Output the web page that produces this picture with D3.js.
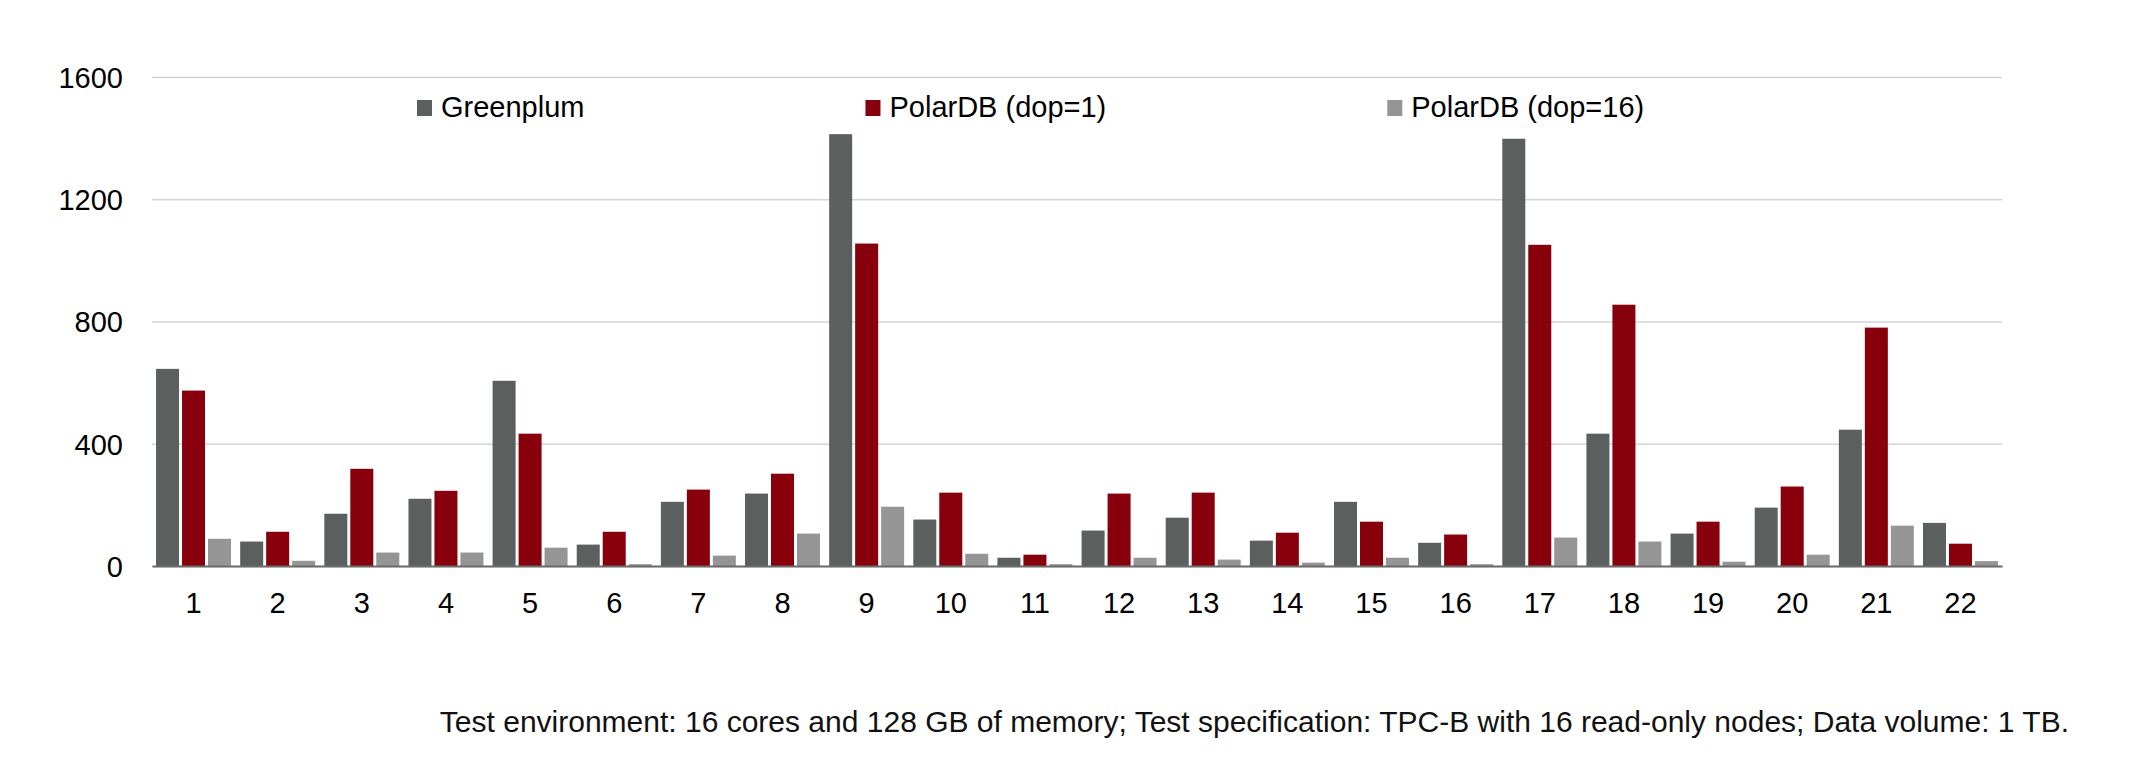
<!DOCTYPE html>
<html>
<head>
<meta charset="utf-8">
<script src="https://cdn.jsdelivr.net/npm/d3@7"></script>
<style>
  body { margin: 0; background: #fff; }
  text { font-family: "Liberation Sans", Arial, Helvetica, sans-serif; }
</style>
</head>
<body>
<div id="viz"></div>
<script>
var queries = ["1","2","3","4","5","6","7","8","9","10","11","12","13","14","15","16","17","18","19","20","21","22"];
var seriesNames = ["Greenplum", "PolarDB (dop=1)", "PolarDB (dop=16)"];
var greenplum = [645, 80, 171, 220, 606, 70, 210, 237, 1413, 152, 27, 116, 158, 83, 210, 76, 1398, 433, 106, 191, 446, 141];
var polarDop1 = [574, 112, 318, 246, 433, 112, 250, 302, 1055, 240, 37, 237, 240, 109, 145, 103, 1051, 855, 145, 260, 780, 73];
var polarDop16 = [89, 17, 44, 44, 60, 6, 34, 106, 194, 40, 6, 27, 21, 11, 27, 6, 93, 80, 14, 37, 132, 16];
var yTicks = [0, 400, 800, 1200, 1600];
var caption = "Test environment: 16 cores and 128 GB of memory; Test specification: TPC-B with 16 read-only nodes; Data volume: 1 TB.";

var colors = ["#5b605e", "#88000b", "#959595"];
var allSeries = [greenplum, polarDop1, polarDop16];

var width = 2134, height = 766,
    plotLeft = 152, plotRight = 2002, plotTop = 77, plotBottom = 566;

var svg = d3.select("#viz")
    .append("svg")
    .attr("width", width)
    .attr("height", height);

var x = d3.scaleBand()
    .domain(queries)
    .range([plotLeft, plotRight])
    .paddingInner(0.109)
    .paddingOuter(0.048);

var x1 = d3.scaleBand()
    .domain(d3.range(seriesNames.length))
    .range([0, x.bandwidth()])
    .paddingInner(0.115);

var y = d3.scaleLinear()
    .domain([0, 1600])
    .range([plotBottom, plotTop]);

// gridlines + y labels
var yAxis = svg.append("g")
    .attr("transform", "translate(" + plotLeft + ",0)")
    .call(d3.axisLeft(y).tickValues(yTicks).tickFormat(d3.format("d"))
        .tickSize(-(plotRight - plotLeft)).tickPadding(29));
yAxis.select(".domain").remove();
yAxis.selectAll("line").attr("stroke", "#d4d4d4").attr("stroke-width", 1.5);
yAxis.selectAll("text")
    .attr("fill", "#000")
    .style("font-size", "29px")
    .attr("dy", "0.36em");

// bars
var groups = svg.selectAll("g.query")
    .data(queries)
    .enter().append("g")
    .attr("class", "query")
    .attr("transform", function(d){ return "translate(" + x(d) + ",0)"; });

groups.selectAll("rect")
    .data(function(d, i){ return allSeries.map(function(s, k){ return {k: k, v: s[i]}; }); })
    .enter().append("rect")
    .attr("x", function(d){ return x1(d.k); })
    .attr("width", x1.bandwidth())
    .attr("y", function(d){ return y(d.v); })
    .attr("height", function(d){ return plotBottom - y(d.v); })
    .attr("fill", function(d){ return colors[d.k]; });

// x axis
var xAxis = svg.append("g")
    .attr("transform", "translate(0," + plotBottom + ")")
    .call(d3.axisBottom(x).tickSize(0));
xAxis.select(".domain").attr("stroke", "#6b6b6b").attr("stroke-width", 2);
xAxis.selectAll("text")
    .attr("fill", "#000")
    .style("font-size", "29px")
    .attr("dy", null)
    .attr("y", 47);

// legend
var legend = svg.append("g");
var lx = 417;
seriesNames.forEach(function(name, k){
    legend.append("rect")
        .attr("x", lx).attr("y", 100)
        .attr("width", 15).attr("height", 16)
        .attr("fill", colors[k]);
    var t = legend.append("text")
        .attr("x", lx + 24).attr("y", 117)
        .style("font-size", "29px")
        .attr("fill", "#000")
        .text(name);
    lx = lx + 24 + t.node().getComputedTextLength() + 281;
});

// caption
svg.append("text")
    .attr("x", 2069).attr("y", 732)
    .attr("text-anchor", "end")
    .style("font-size", "30px")
    .attr("fill", "#111")
    .text(caption);
</script>
</body>
</html>
